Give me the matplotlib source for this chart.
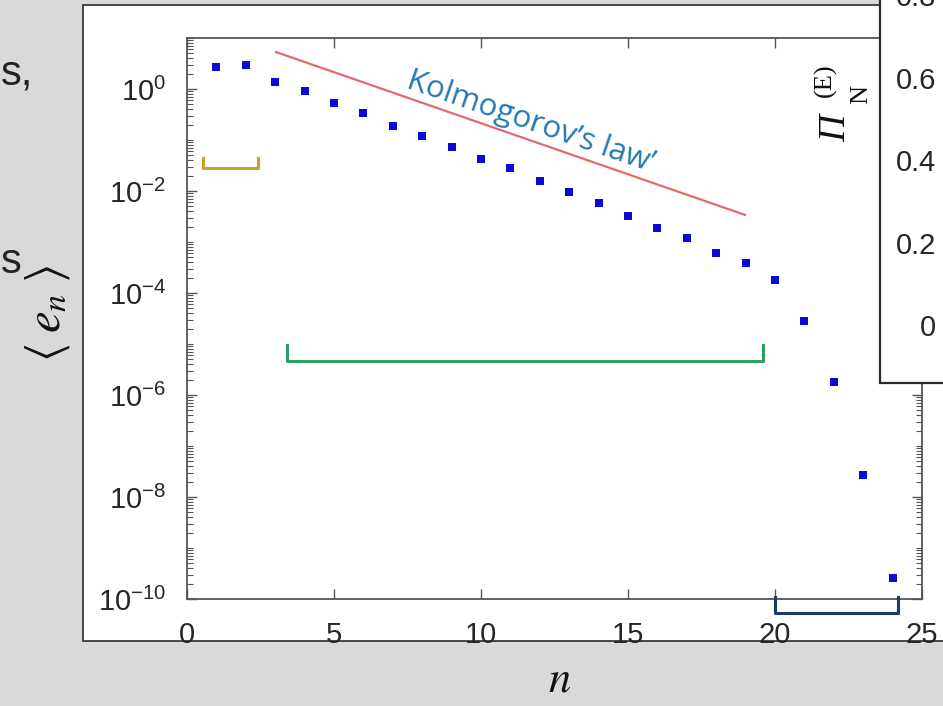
import matplotlib
matplotlib.use("Agg")
import matplotlib.pyplot as plt
from matplotlib.patches import Rectangle
from matplotlib.ticker import LogLocator, NullFormatter

# ---------------- data ----------------
n_vals = [1, 2, 3, 4, 5, 6, 7, 8, 9, 10, 11, 12,
          13, 14, 15, 16, 17, 18, 19, 20, 21, 22, 23, 24]
e_vals = [2.75, 2.9, 1.38, 0.91, 0.54, 0.34, 0.19, 0.12, 0.072, 0.043,
          0.028, 0.016, 0.0095, 0.0058, 0.0032, 0.0019, 0.0012, 6.0e-4,
          3.9e-4, 1.8e-4, 2.8e-5, 1.8e-6, 2.7e-8, 2.6e-10]

law_x = [3.03, 18.98]
law_y = [5.3, 3.4e-3]

x_ticks = [0, 5, 10, 15, 20, 25]
x_ticklabels = ["0", "5", "10", "15", "20", "25"]
y_ticks = [1e-10, 1e-8, 1e-6, 1e-4, 1e-2, 1e0]
y_ticklabels = [r"$\mathregular{10^{-10}}$", r"$\mathregular{10^{-8}}$",
                r"$\mathregular{10^{-6}}$", r"$\mathregular{10^{-4}}$",
                r"$\mathregular{10^{-2}}$", r"$\mathregular{10^{0}}$"]

inset_ticks = [0, 0.2, 0.4, 0.6, 0.8]
inset_ticklabels = ["0", "0.2", "0.4", "0.6", "0.8"]

# brackets (x0, x1, y_top, y_bottom)
bracket_yellow = [0.54, 2.4, 10 ** -1.35, 10 ** -1.55]
bracket_green = [3.4, 19.6, 10 ** -5.02, 10 ** -5.33]
bracket_navy = [20.0, 24.2, 10 ** -9.96, 10 ** -10.28]

# ---------------- figure ----------------
W, H = 943, 706
fig = plt.figure(figsize=(W / 100, H / 100), dpi=100)
fig.patch.set_facecolor("#d9d9d9")

def px(x, y):
    return x / W, 1 - y / H

plt.rcParams["font.family"] = ["Liberation Sans", "DejaVu Sans"]
plt.rcParams["mathtext.fontset"] = "cm"

# white slide panel
x0, y0 = px(83, 5)
x1, y1 = px(960, 641)
fig.patches.append(Rectangle((x0, y1), x1 - x0, y0 - y1, transform=fig.transFigure,
                             facecolor="white", edgecolor="#3a3a3a", lw=1.3, zorder=-2))

L, R, T, B = 187, 922, 38, 599
ax = fig.add_axes([L / W, 1 - B / H, (R - L) / W, (B - T) / H])
ax.set_facecolor("white")
ax.set_yscale("log")
ax.set_xlim(0, 25)
ax.set_ylim(1e-10, 1e1)

ax.plot(n_vals, e_vals, linestyle="none", marker="s", markersize=5.8,
        color="#0a0ad8", markeredgewidth=0, zorder=5)
ax.plot(law_x, law_y, color="#e06b6b", lw=1.6, zorder=4)

def bracket(b, color, clip=True):
    xa, xb, yt, yb = b
    ax.plot([xa, xa, xb, xb], [yt, yb, yb, yt], color=color, lw=2.2,
            solid_joinstyle="round", clip_on=clip, zorder=6)

bracket(bracket_yellow, "#c8a02a")
bracket(bracket_green, "#2e9e62")
bracket(bracket_navy, "#1f3a66", clip=False)

ax.text(11.6, 10 ** -0.80, "Kolmogorov\u2019s law\u2019", rotation=-19,
        rotation_mode="anchor", ha="center", va="baseline",
        color="#2479b5", fontsize=22.5, family=["Open Sans", "DejaVu Sans"])

ax.set_xticks(x_ticks)
ax.set_xticklabels(x_ticklabels)
ax.set_yticks(y_ticks)
ax.set_yticklabels(y_ticklabels)
ax.yaxis.set_minor_locator(LogLocator(base=10, subs=[1, 2, 3, 4, 5, 6, 7, 8, 9], numticks=30))
ax.yaxis.set_minor_formatter(NullFormatter())
ax.tick_params(which="both", direction="in", top=True, right=True,
               color="#555555", labelcolor="#262626", labelsize=21)
ax.tick_params(which="major", length=7, width=1.0)
ax.tick_params(which="minor", length=4, width=0.8)
ax.tick_params(axis="y", which="major", pad=15)
ax.tick_params(axis="x", which="major", pad=16)
for s in ax.spines.values():
    s.set_color("#555555")
    s.set_linewidth(1.3)

# inset panel (mostly off screen)
ix0, iy0 = px(880, -5)
ix1, iy1 = px(960, 383)
fig.patches.append(Rectangle((ix0, iy1), ix1 - ix0, iy0 - iy1, transform=fig.transFigure,
                             facecolor="white", edgecolor="#2a2a2a", lw=1.6, zorder=10))
IL, IT, IB = 950, -5, 350
axi = fig.add_axes([IL / W, 1 - IB / H, 0.2, (IB - IT) / H])
axi.set_ylim(-0.06, 0.79)
axi.set_yticks(inset_ticks)
axi.set_yticklabels(inset_ticklabels)
axi.set_xticks([])
axi.tick_params(axis="y", length=0, pad=10, labelsize=21, labelcolor="#262626")
axi.set_zorder(11)
for s in axi.spines.values():
    s.set_visible(False)
axi.patch.set_visible(False)

# inset y-label  Pi_N^(E)  (italic Pi, upright N and (E)), rotated
serif = ["Liberation Serif", "DejaVu Serif"]
fig.text(836 / W, 1 - 128 / H, "\u03a0", rotation=90, rotation_mode="anchor",
         ha="center", va="center", fontsize=27, style="italic", family=serif,
         color="#111111", zorder=12)
fig.text(861 / W, 1 - 94 / H, "N", rotation=90, rotation_mode="anchor",
         ha="center", va="center", fontsize=19, family=serif,
         color="#111111", zorder=12)
fig.text(825 / W, 1 - 80 / H, "(E)", rotation=90, rotation_mode="anchor",
         ha="center", va="center", fontsize=19, family=serif,
         color="#111111", zorder=12)

# axis labels and slide fragments
fig.text(48 / W, 1 - 313 / H, r"$\langle\;e_n\;\rangle$", rotation=90,
         rotation_mode="anchor", ha="center", va="center", fontsize=35,
         color="#111111", math_fontfamily="stix")
fig.text(560 / W, 1 - 680 / H, r"$n$", ha="center", va="center",
         fontsize=32, color="#111111", math_fontfamily="stix")
fig.text(1 / W, 1 - 74 / H, "s,", ha="left", va="center", fontsize=30, color="#222222")
fig.text(1 / W, 1 - 262 / H, "s", ha="left", va="center", fontsize=30, color="#222222")

fig.savefig("out.png", dpi=100, facecolor=fig.get_facecolor())
